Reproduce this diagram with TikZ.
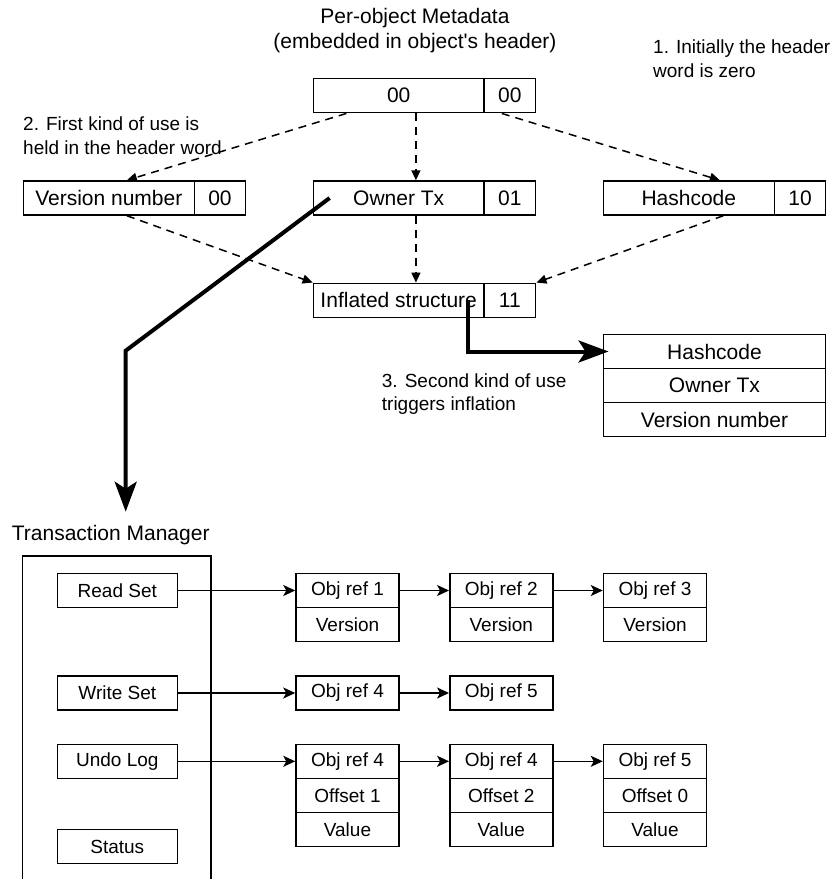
\documentclass[tikz,border=0pt]{standalone}
\usepackage{fontspec}
\setmainfont{Liberation Sans}
\usetikzlibrary{arrows.meta,calc}
\begin{document}
\begin{tikzpicture}[x=1pt,y=-1pt,
  cell/.style={draw, line width=1.5pt, inner sep=0pt, minimum height=34pt, font=\fontsize{21}{24}\selectfont},
  bcell/.style={cell, minimum width=103pt, font=\fontsize{19}{22}\selectfont},
  tmcell/.style={cell, minimum width=120pt, font=\fontsize{19}{22}\selectfont},
  annot/.style={anchor=base west, inner sep=0pt, font=\fontsize{19}{23}\selectfont},
  titletxt/.style={anchor=base, inner sep=0pt, font=\fontsize{21}{24}\selectfont},
  dashline/.style={line width=1.5pt, dash pattern=on 8pt off 6pt, -{Triangle[length=10pt,width=9pt]}},
  thickarrow/.style={line width=4pt, -{Stealth[length=30pt,width=22pt,inset=7pt]}},
  link/.style={line width=1.5pt, -{Stealth[length=12pt,width=11pt,inset=3pt]}}]
\useasboundingbox (0,0) rectangle (835,879);

% titles and annotations
\node[titletxt] (title1) at (415,23) {Per-object Metadata};
\node[titletxt] (title2) at (415,48) {(embedded in object\textquotesingle s header)};
\node[annot] (n1a) at (653,53) {1. Initially the header};
\node[annot] (n1b) at (653,77) {word is zero};
\node[annot] (n2a) at (23,130) {2. First kind of use is};
\node[annot] (n2b) at (23,154) {held in the header word};
\node[annot] (n3a) at (381.7,387) {3. Second kind of use};
\node[annot] (n3b) at (381.7,410) {triggers inflation};

% header word boxes
\node[cell, minimum width=170.7pt] (top) at (398.7,95.7) {00};
\node[cell, minimum width=51.7pt] (topc) at (509.85,95.7) {00};
\node[cell, minimum width=171pt] (ver) at (108.8,198) {Version number};
\node[cell, minimum width=51.4pt] (verc) at (220,198) {00};
\node[cell, minimum width=170.7pt] (own) at (398.7,198) {Owner Tx};
\node[cell, minimum width=51.7pt] (ownc) at (509.85,198) {01};
\node[cell, minimum width=171pt] (hash) at (688.8,198) {Hashcode};
\node[cell, minimum width=51.4pt] (hashc) at (800,198) {10};
\node[cell, minimum width=170.7pt] (inf) at (398.7,300.3) {Inflated structure};
\node[cell, minimum width=51.7pt] (infc) at (509.85,300.3) {11};

% inflated structure
\node[cell, minimum width=222.4pt] (st1) at (714.5,351.5) {Hashcode};
\node[cell, minimum width=222.4pt] (st2) at (714.5,385.5) {Owner Tx};
\node[cell, minimum width=222.4pt] (st3) at (714.5,419.5) {Version number};

% dashed transitions
\draw[dashline] ($(top.south west)!0.196!(top.south east)$) -- ($(ver.north west)!0.605!(ver.north east)$);
\draw[dashline] ($(top.south west)!0.6!(top.south east)$) -- ($(own.north west)!0.6!(own.north east)$);
\draw[dashline] ($(topc.south west)!0.35!(topc.south east)$) -- ($(hash.north west)!0.68!(hash.north east)$);
\draw[dashline] ($(ver.south west)!0.605!(ver.south east)$) -- (inf.north west);
\draw[dashline] ($(own.south west)!0.6!(own.south east)$) -- ($(inf.north west)!0.6!(inf.north east)$);
\draw[dashline] ($(hash.south west)!0.7!(hash.south east)$) -- (infc.north east);

% thick arrows
\coordinate (bend) at (125.7,350.7);
\coordinate (tmtip) at (125.7,511.7);
\draw[thickarrow] ($(own.west)+(17,0)$) -- (bend) -- (tmtip);
\draw[thickarrow, shorten >=-6pt] ($(inf.east)+(-17,0)$) |- (st1.west);

% transaction manager
\node[anchor=base west, inner sep=0pt, font=\fontsize{21}{24}\selectfont] (tml) at (11.7,540) {Transaction Manager};
\draw[line width=1.5pt] (22.7,890) -- (22.7,556) -- (211,556) -- (211,890);
\node[tmcell] (rs) at (117.3,590.5) {Read Set};
\node[tmcell] (ws) at (117.3,693) {Write Set};
\node[tmcell] (ul) at (117.3,761.3) {Undo Log};
\node[tmcell] (stt) at (117.3,846.7) {Status};

% read set
\node[bcell] (r1) at (347.5,590.5) {Obj ref 1};
\node[bcell] (r1v) at (347.5,624.5) {Version};
\node[bcell] (r2) at (501.3,590.5) {Obj ref 2};
\node[bcell] (r2v) at (501.3,624.5) {Version};
\node[bcell] (r3) at (655,590.5) {Obj ref 3};
\node[bcell] (r3v) at (655,624.5) {Version};
% write set
\node[bcell] (w1) at (347.5,693) {Obj ref 4};
\node[bcell] (w2) at (501.3,693) {Obj ref 5};
% undo log
\node[bcell] (u1) at (347.5,761.3) {Obj ref 4};
\node[bcell] (u1o) at (347.5,795.3) {Offset 1};
\node[bcell] (u1v) at (347.5,829.3) {Value};
\node[bcell] (u2) at (501.3,761.3) {Obj ref 4};
\node[bcell] (u2o) at (501.3,795.3) {Offset 2};
\node[bcell] (u2v) at (501.3,829.3) {Value};
\node[bcell] (u3) at (655,761.3) {Obj ref 5};
\node[bcell] (u3o) at (655,795.3) {Offset 0};
\node[bcell] (u3v) at (655,829.3) {Value};

\draw[link] (rs.east) -- (r1.west);
\draw[link] (r1.east) -- (r2.west);
\draw[link] (r2.east) -- (r3.west);
\draw[link] (ws.east) -- (w1.west);
\draw[link] (w1.east) -- (w2.west);
\draw[link] (ul.east) -- (u1.west);
\draw[link] (u1.east) -- (u2.west);
\draw[link] (u2.east) -- (u3.west);
\end{tikzpicture}
\end{document}
